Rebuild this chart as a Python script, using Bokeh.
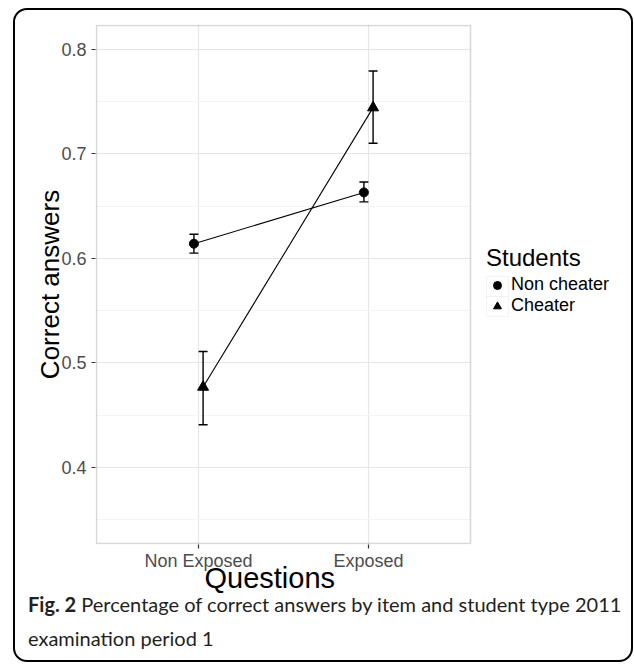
from bokeh.plotting import figure
from bokeh.layouts import column
from bokeh.models import (FixedTicker, Whisker, TeeHead, ColumnDataSource, Legend,
                          LegendItem, Title, Range1d, Div, BoxAnnotation)
from bokeh.embed import file_html
from bokeh.resources import INLINE

# ---------------- data ----------------
questions = ["Non Exposed", "Exposed"]
question_pos = [1, 2]
noncheater_mean = [0.614, 0.663]
noncheater_low = [0.605, 0.654]
noncheater_high = [0.623, 0.673]
cheater_mean = [0.477, 0.744]
cheater_low = [0.441, 0.710]
cheater_high = [0.511, 0.779]
series_names = ["Non cheater", "Cheater"]
y_ticks = [0.4, 0.5, 0.6, 0.7, 0.8]
y_minor = [0.35, 0.45, 0.55, 0.65, 0.75]
caption_bold = "Fig. 2"
caption_line1 = "Percentage of correct answers by item and student type 2011"
caption_line2 = "examination period 1"

# ---------------- layout constants (page pixels) ----------------
OX, OY = 15, 10                       # canvas origin inside the rounded frame
CW = 616                              # canvas width
FL, FR, FT, FB = 96, 470, 25, 543     # plot panel edges
X0, X1 = 0.4, 2.6                     # panel x limits (discrete scale, ggplot expand)
Y0, Y1 = 0.3275, 0.8225               # panel y limits
PXX = (FR - FL) / (X1 - X0)
PXY = (FB - FT) / (Y1 - Y0)
# the Bokeh frame is 1px larger than the panel, and runs on to the right edge
# so the legend (an annotation, clipped to the frame) can sit right of the panel
XS, XE = X0 - 1 / PXX, X1 + (OX + CW - FR) / PXX
YS, YE = Y0 - 1 / PXY, Y1 + 1 / PXY
BOTTOM_BORDER = 70
PH = (FB + 1 - OY) + BOTTOM_BORDER    # main figure height
CAP_TOP = 587                         # where the caption block starts
CAP_H = 660 - CAP_TOP
DODGE = 0.027
AXIS_FONT = "Liberation Sans"

def dx(px):
    return X0 + (px - FL) / PXX

def dy(py):
    return Y1 - (py - FT) / PXY

p = figure(width=CW, height=PH, output_backend="svg", toolbar_location=None,
           x_range=Range1d(XS, XE), y_range=Range1d(YS, YE), title=None,
           min_border_left=FL - 1 - OX, min_border_right=0,
           min_border_top=FT - 1 - OY, min_border_bottom=BOTTOM_BORDER)
p.background_fill_color = "white"
p.border_fill_color = None
p.outline_line_color = None

# axes
p.xaxis.ticker = FixedTicker(ticks=question_pos)
p.xaxis.major_label_overrides = {pos: q for pos, q in zip(question_pos, questions)}
p.yaxis.ticker = FixedTicker(ticks=y_ticks, minor_ticks=y_minor)
p.yaxis.major_label_overrides = {t: f"{t:.1f}" for t in y_ticks}
for ax in (p.xaxis[0], p.yaxis[0]):
    ax.axis_line_color = None
    ax.major_tick_line_color = "#333333"
    ax.major_tick_line_width = 1.2
    ax.major_tick_out = 4
    ax.major_tick_in = 0
    ax.minor_tick_line_color = None
    ax.major_label_text_font = AXIS_FONT
    ax.major_label_text_font_size = "18px"
    ax.major_label_text_color = "#4d4d4d"
p.xaxis.major_label_standoff = 2
p.yaxis.major_label_standoff = 5
p.yaxis.axis_label = "Correct answers"
p.yaxis.axis_label_text_font = AXIS_FONT
p.yaxis.axis_label_text_font_size = "26px"
p.yaxis.axis_label_text_font_style = "normal"
p.yaxis.axis_label_text_color = "black"
p.yaxis.axis_label_standoff = -7

# x-axis title, left-aligned with an offset so it sits where the reference has it
p.add_layout(Title(text="Questions", align="left", offset=204 - (FL - 1), vertical_align="top",
                   standoff=-24, text_font=AXIS_FONT, text_font_size="29px",
                   text_font_style="normal", text_color="black"), "below")

p.xgrid.grid_line_color = "#e6e6e6"
p.xgrid.grid_line_width = 1.2
p.ygrid.grid_line_color = "#e6e6e6"
p.ygrid.grid_line_width = 1.2
p.ygrid.minor_grid_line_color = "#f4f4f4"
p.ygrid.minor_grid_line_width = 1

# hide grid lines right of the panel, then draw the panel border
p.add_layout(BoxAnnotation(left=X1, right=XE, bottom=YS, top=YE, fill_color="white",
                           fill_alpha=1, line_color=None, level="underlay"))
p.add_layout(BoxAnnotation(left=X0, right=X1, bottom=Y0, top=Y1, fill_alpha=0,
                           line_color="#7f7f7f", line_width=1.5))

# ---------------- data marks ----------------
nc_x = [q - DODGE for q in question_pos]
ch_x = [q + DODGE for q in question_pos]
nc_src = ColumnDataSource(dict(x=nc_x, y=noncheater_mean, lo=noncheater_low, hi=noncheater_high))
ch_src = ColumnDataSource(dict(x=ch_x, y=cheater_mean, lo=cheater_low, hi=cheater_high))

p.line("x", "y", source=nc_src, line_color="black", line_width=1.1)
p.line("x", "y", source=ch_src, line_color="black", line_width=1.1)
for src in (nc_src, ch_src):
    p.add_layout(Whisker(source=src, base="x", upper="hi", lower="lo", dimension="height",
                         line_color="black", line_width=1.4,
                         upper_head=TeeHead(size=9, line_color="black", line_width=1.4),
                         lower_head=TeeHead(size=9, line_color="black", line_width=1.4)))
r_nc = p.scatter("x", "y", source=nc_src, marker="circle", size=9,
                 fill_color="black", line_color="black")
r_ch = p.scatter("x", "y", source=ch_src, marker="triangle", size=11,
                 fill_color="black", line_color="black")

# ---------------- legend ----------------
LEG_L, LEG_ITEMS_TOP, ROW_H, KEY_W = 486, 276, 20, 22
for i in range(2):
    p.add_layout(BoxAnnotation(left=dx(LEG_L), right=dx(LEG_L + KEY_W),
                               top=dy(LEG_ITEMS_TOP + i * ROW_H),
                               bottom=dy(LEG_ITEMS_TOP + (i + 1) * ROW_H),
                               fill_color="white", fill_alpha=1, line_color="#d9d9d9",
                               line_width=1, level="underlay"))
legend = Legend(items=[LegendItem(label=series_names[0], renderers=[r_nc]),
                       LegendItem(label=series_names[1], renderers=[r_ch])],
                location=(LEG_L - (FL - 1), (FB + 1) - (LEG_ITEMS_TOP + 2 * ROW_H)),
                title="Students", title_text_font=AXIS_FONT, title_text_font_size="24px",
                title_text_font_style="normal", title_text_color="black", title_standoff=2,
                label_text_font=AXIS_FONT, label_text_font_size="18px",
                label_text_color="black", label_standoff=3,
                glyph_width=KEY_W, glyph_height=ROW_H, label_height=ROW_H, spacing=0,
                padding=0, margin=0, border_line_color=None, background_fill_alpha=0)
p.add_layout(legend, "center")

# ---------------- caption ----------------
cap = Div(text=f"<b>{caption_bold}</b> {caption_line1}<br>{caption_line2}",
          width=CW, height=CAP_H, margin=(CAP_TOP - (OY + PH), 0, 0, 0),
          styles={"font-family": "Lato", "font-size": "20px", "line-height": "34px",
                  "color": "#231f20", "padding-left": f"{28 - OX}px",
                  "white-space": "nowrap"})

page = column(p, cap, margin=(OY, 0, 0, OX),
              styles={"outline": "2px solid black", "border-radius": "12px",
                      "background-color": "white"})

open("out.html", "w").write(file_html(page, INLINE))
